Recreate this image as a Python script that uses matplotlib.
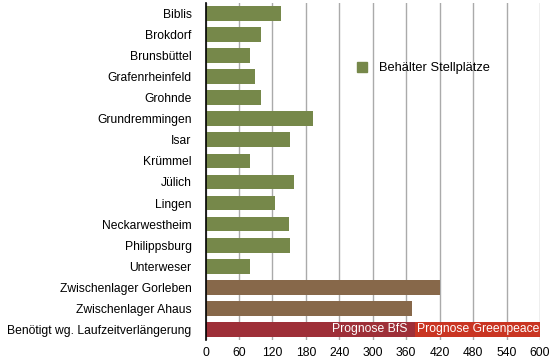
import matplotlib
matplotlib.use("Agg")
import matplotlib.pyplot as plt
from matplotlib.patches import Patch

plt.rcParams['font.family'] = ['Liberation Sans', 'DejaVu Sans']

categories = ["Biblis", "Brokdorf", "Brunsbüttel", "Grafenrheinfeld", "Grohnde",
              "Grundremmingen", "Isar", "Krümmel", "Jülich", "Lingen",
              "Neckarwestheim", "Philippsburg", "Unterweser",
              "Zwischenlager Gorleben", "Zwischenlager Ahaus",
              "Benötigt wg. Laufzeitverlängerung"]
stellplaetze = [135, 100, 80, 88, 100, 192, 152, 80, 158, 125, 150, 152, 80]
zwischenlager = [420, 370]
prognose_bfs = 375
prognose_greenpeace = 600
xticks = list(range(0, 601, 60))

green = "#76884a"
brown = "#87684a"
darkred = "#9e2f38"
red = "#c93522"
fs = 8.7

fig = plt.figure(figsize=(5.55, 3.64), dpi=100)
ax = fig.add_axes([0.3703, 0.066, 0.6027, 0.926])

n = len(categories)
ypos = list(range(n))
h = 0.7

ax.barh(ypos[:13], stellplaetze, height=h, color=green, zorder=2)
ax.barh(ypos[13:15], zwischenlager, height=h, color=brown, zorder=2)
ax.barh(ypos[15], prognose_greenpeace, height=h, color=red, zorder=2)
ax.barh(ypos[15], prognose_bfs, height=h, color=darkred, zorder=3)

ax.text(prognose_bfs - 13, ypos[15], "Prognose BfS", color="white",
        ha="right", va="center", fontsize=fs, zorder=4)
ax.text(prognose_greenpeace - 2, ypos[15], "Prognose Greenpeace", color="white",
        ha="right", va="center", fontsize=fs, zorder=4)

ax.set_ylim(n - 0.5, -0.5)
ax.set_yticks(ypos)
ax.set_yticklabels(categories, fontsize=fs)
ax.set_xlim(0, 600)
ax.set_xticks(xticks)
ax.set_xticklabels([str(t) for t in xticks], fontsize=fs)
ax.tick_params(axis='both', length=0)
ax.tick_params(axis='y', pad=10)
ax.tick_params(axis='x', pad=5)
ax.grid(axis='x', color="#aaaaaa", linewidth=1, zorder=1)
ax.set_axisbelow(True)
for s in ["top", "right", "bottom"]:
    ax.spines[s].set_visible(False)
ax.spines["left"].set_color("black")
ax.spines["left"].set_linewidth(1.2)
ax.spines["left"].set_zorder(5)

ax.legend(handles=[Patch(color=green, label="Behälter Stellplätze")],
          loc="upper left", bbox_to_anchor=(0.418, 0.86), frameon=False,
          fontsize=9.3, handlelength=0.8, handleheight=0.8, handletextpad=0.9)

fig.savefig("out.png", dpi=100)
